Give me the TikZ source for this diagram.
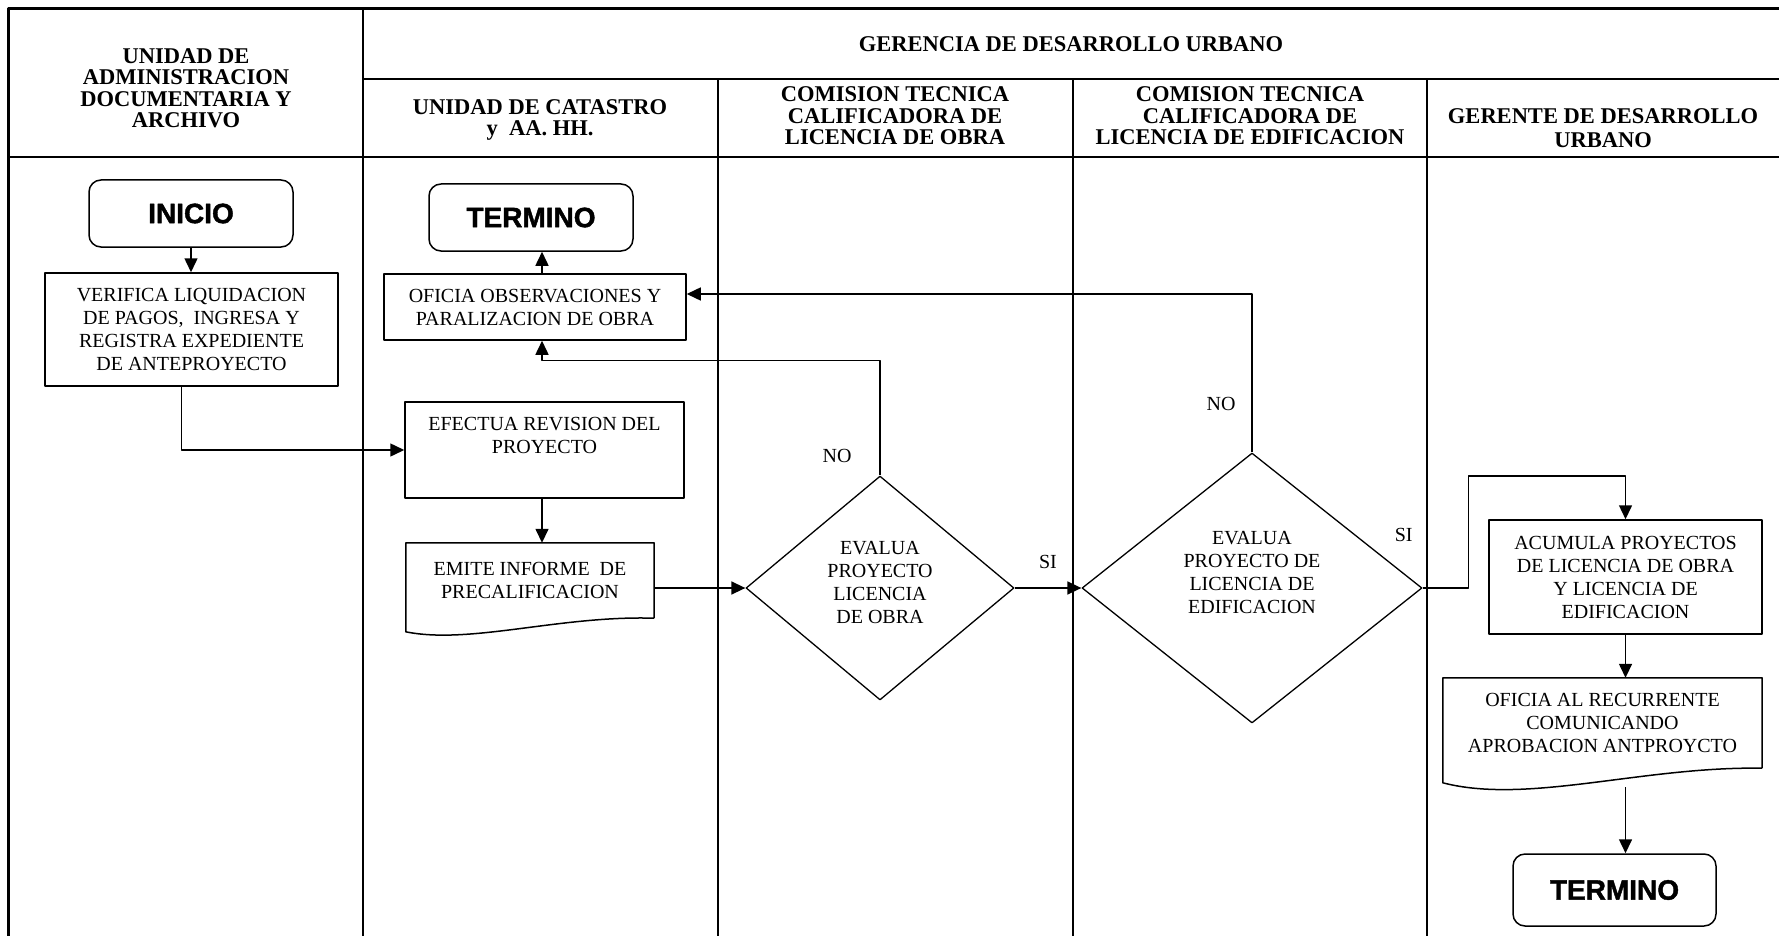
\documentclass[tikz,border=0pt]{standalone}
\usepackage{fontspec}
\setmainfont{Liberation Serif}
\newfontfamily\arialb{Liberation Sans Bold}[FakeBold=1.5]
\usetikzlibrary{shapes.geometric,arrows.meta}
\begin{document}
\begin{tikzpicture}[x=1pt,y=-1pt, line join=round, >={Triangle[length=14pt,width=13pt]},
	cab/.style={align=center, inner sep=0pt, font=\bfseries\fontsize{22.5}{21.5}\selectfont},
	txt/.style={align=center, inner sep=0pt, font=\fontsize{20}{23}\selectfont},
	etq/.style={inner sep=0pt, font=\fontsize{20}{23}\selectfont},
	caja/.style={txt, draw, line width=1.5pt},
	fin/.style={draw, line width=1.5pt, rounded corners=12pt, minimum width=204pt, minimum height=67pt, font=\arialb\fontsize{28}{30}\selectfont},
	rombo/.style={diamond, draw, line width=1.3pt, inner sep=0pt},
	flecha/.style={->, line width=1.5pt}]
	\useasboundingbox (0,0) rectangle (1779,936);
	\def\ya{79} \def\yb{157}
	% marco y carriles
	\draw[line width=3pt] (8,936)--(8,8.5)--(1779,8.5);
	\draw[line width=2.5pt] (363,\ya)--(1779,\ya);
	\draw[line width=1.3pt] (8,\yb)--(1779,\yb) (363,8.5)--(363,936);
	\foreach \x in {718,1073,1427} \draw[line width=1.3pt] (\x,\ya)--(\x,936);
	\node[cab] (h1) at (186,88) {UNIDAD DE\\ADMINISTRACION\\DOCUMENTARIA Y\\ARCHIVO};
	\node[cab] (h0) at (1071,44) {GERENCIA DE DESARROLLO URBANO};
	\node[cab] (h2) at (540,120) {UNIDAD DE CATASTRO\\y\ \ AA. HH.};
	\node[cab] (h3) at (895,116) {COMISION TECNICA\\CALIFICADORA DE\\LICENCIA DE OBRA};
	\node[cab] (h4) at (1250,116) {COMISION TECNICA\\CALIFICADORA DE\\LICENCIA DE EDIFICACION};
	\node[cab, font=\bfseries\fontsize{22.5}{24}\selectfont] (h5) at (1603,128.5) {GERENTE DE DESARROLLO\\URBANO};
	% nodos
	\node[fin] (inicio) at (191,213.5) {INICIO};
	\node[caja, minimum width=293pt, minimum height=113pt] (verif) at (191.5,329.5) {VERIFICA LIQUIDACION\\DE PAGOS,\ \ INGRESA Y\\REGISTRA EXPEDIENTE\\DE ANTEPROYECTO};
	\node[fin] (term1) at (531,217.5) {TERMINO};
	\node[caja, minimum width=302pt, minimum height=66pt] (ofobs) at (535,307) {OFICIA OBSERVACIONES Y\\PARALIZACION DE OBRA};
	\node[caja, minimum width=279pt, minimum height=96pt] (efect) at (544.5,450) {EFECTUA REVISION DEL\\PROYECTO\\\strut};
	\node[txt, minimum width=248pt, minimum height=75pt] (emite) at (530,580.5) {EMITE INFORME\ \ DE\\PRECALIFICACION};
	\draw[line width=1.5pt] (emite.south east)--(emite.north east)--(emite.north west)--++(0,89) .. controls +(64,13) and +(-94,-3) .. (emite.south east);
	\node[rombo, minimum width=268pt, minimum height=224pt] (d1) at (880,588) {};
	\node[txt] at ([yshift=6pt]d1.center) {EVALUA\\PROYECTO\\LICENCIA\\DE OBRA};
	\node[rombo, minimum width=340pt, minimum height=270pt] (d2) at (1252,588) {};
	\node[txt] at ([yshift=16pt]d2.center) {EVALUA\\PROYECTO DE\\LICENCIA DE\\EDIFICACION};
	\node[caja, minimum width=273pt, minimum height=114pt] (acum) at (1625.5,577) {ACUMULA PROYECTOS\\DE LICENCIA DE OBRA\\Y LICENCIA DE\\EDIFICACION};
	\node[txt, minimum width=319pt, minimum height=90pt] (ofrec) at (1602.5,723) {OFICIA AL RECURRENTE\\COMUNICANDO\\APROBACION ANTPROYCTO};
	\draw[line width=1.5pt] (ofrec.south east)--(ofrec.north east)--(ofrec.north west)--++(0,105) .. controls +(85,22) and +(-120,-2) .. (ofrec.south east);
	\node[fin, minimum width=203pt, minimum height=72pt] (term2) at (1614.5,890) {TERMINO};
	% flechas
	\draw[flecha] (inicio.south)--(inicio.south |- verif.north);
	\draw[flecha] ([xshift=-10pt]verif.south) |- (efect.west);
	\draw[flecha] ([xshift=-2.5pt]efect.south)--([xshift=-2.5pt]efect.south |- emite.north);
	\draw[flecha] ([xshift=7pt]ofobs.north)--([xshift=7pt]ofobs.north |- term1.south);
	\draw[flecha] (emite.east |- d1.west)--(d1.west);
	\draw[flecha] (d1.east)--node[etq, above=19pt]{SI} (d2.west);
	\draw[flecha] (d1.north)--++(0,-115) -| ([xshift=7pt]ofobs.south);
	\node[etq] at ([xshift=-43pt,yshift=19pt]d1.north) {NO};
	\draw[flecha] (d2.north) |- ([yshift=13pt]ofobs.east);
	\node[etq] at ([xshift=-31pt,yshift=48pt]d2.north) {NO};
	\draw[flecha] (d2.east)--++(46,0)--++(0,-112) -| (acum.north);
	\node[etq] at ([xshift=-19pt,yshift=53pt]d2.east) {SI};
	\draw[flecha] (acum.south)--(acum.south |- ofrec.north);
	\draw[flecha] ([yshift=-19pt]ofrec.south -| acum.south)--(acum.south |- term2.north);
\end{tikzpicture}
\end{document}
